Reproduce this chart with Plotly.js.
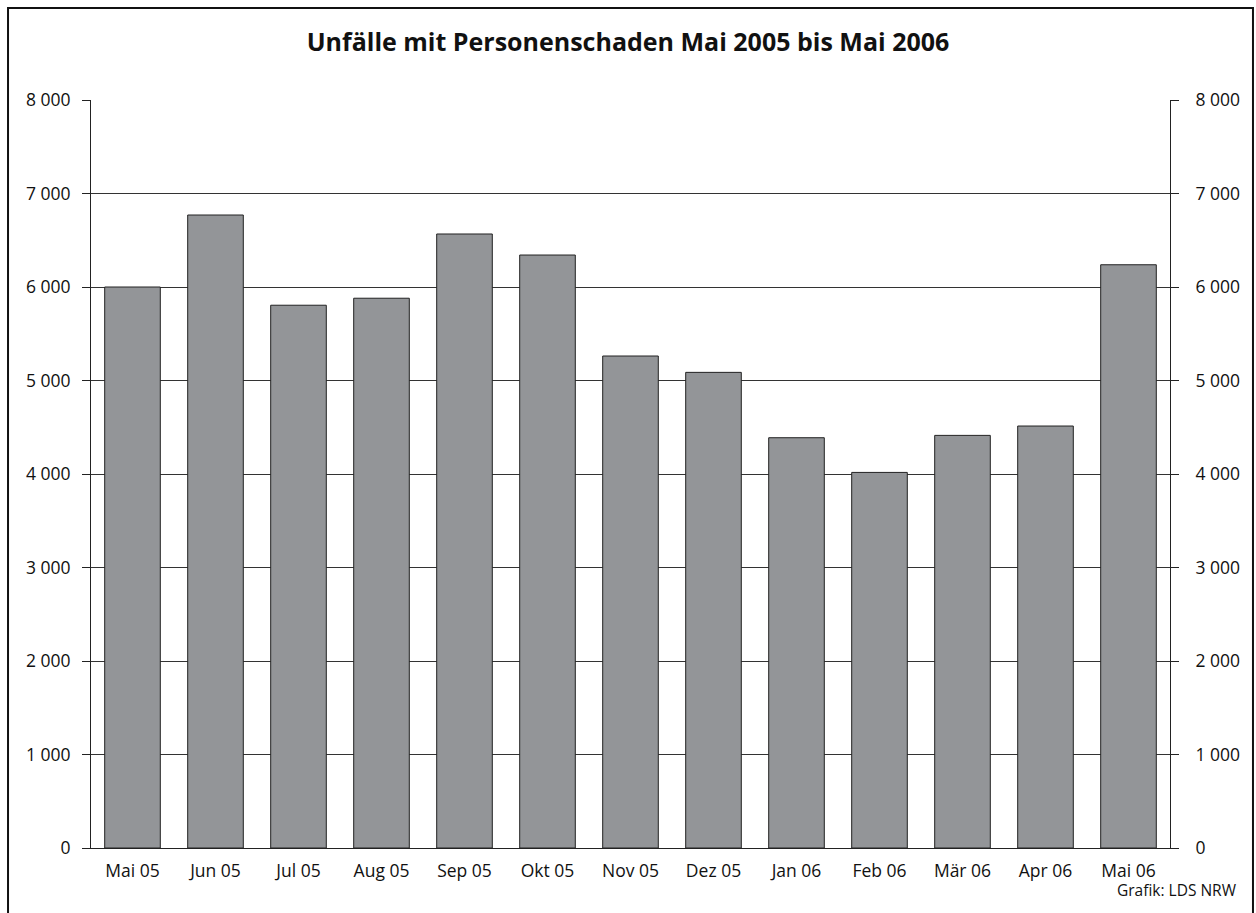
<!DOCTYPE html>
<html>
<head>
<meta charset="utf-8">
<script src="https://cdn.plot.ly/plotly-3.0.1.min.js"></script>
<style>
  html, body { margin: 0; padding: 0; background: #fff; }
  #chart { width: 1256px; height: 913px; }
</style>
</head>
<body>
<div id="chart"></div>
<script>
// Monatswerte Unfälle mit Personenschaden
let months = ['Mai 05','Jun 05','Jul 05','Aug 05','Sep 05','Okt 05','Nov 05',
              'Dez 05','Jan 06','Feb 06','Mär 06','Apr 06','Mai 06'];
let accidents = [6000, 6770, 5805, 5880, 6567, 6342, 5262,
                 5087, 4388, 4017, 4413, 4513, 6238];
let yTicks = [0, 1000, 2000, 3000, 4000, 5000, 6000, 7000, 8000];

let font = 'Open Sans, Noto Sans, sans-serif';

let trace1 = {
  x: months,
  y: accidents,
  type: 'bar',
  marker: {
    color: '#939598',
    line: { color: '#222', width: 1 }
  },
  hoverinfo: 'x+y'
};

// same bars on the right axis, invisible, so the right scale is drawn
let trace2 = {
  x: months,
  y: accidents,
  type: 'bar',
  yaxis: 'y2',
  opacity: 0,
  hoverinfo: 'skip'
};

let yBase = {
  range: [0, 8000],
  tickvals: yTicks,
  separatethousands: true,
  ticks: 'outside',
  ticklen: 8,
  tickcolor: '#222',
  tickwidth: 1,
  showline: true,
  linecolor: '#222',
  linewidth: 1,
  tickfont: { family: font, size: 17.5, color: '#111' },
  zeroline: false
};

let layout = {
  width: 1256,
  height: 913,
  margin: { l: 91, r: 86, t: 100, b: 65 },
  paper_bgcolor: '#fff',
  plot_bgcolor: '#fff',
  separators: ', ',
  showlegend: false,
  bargap: 0.33,
  barmode: 'overlay',
  title: {
    text: '<b>Unfälle mit Personenschaden Mai 2005 bis Mai 2006</b>',
    font: { family: font, size: 25, color: '#111' },
    x: 0.5,
    xanchor: 'center',
    y: 1 - 42 / 913,
    yanchor: 'middle'
  },
  xaxis: {
    showline: true,
    linecolor: '#222',
    linewidth: 1,
    ticks: '',
    tickfont: { family: font, size: 17.5, color: '#111' },
    ticklabelstandoff: 7
  },
  yaxis: Object.assign({}, yBase, {
    showgrid: true,
    gridcolor: '#333',
    gridwidth: 1,
    ticklabelstandoff: 8
  }),
  yaxis2: Object.assign({}, yBase, {
    overlaying: 'y',
    side: 'right',
    showgrid: false,
    ticklabelstandoff: 13
  }),
  shapes: [{
    type: 'rect',
    xref: 'paper', yref: 'paper',
    x0: -0.0769, x1: 1.0769,
    y0: -0.12, y1: 1.123,
    line: { color: '#111', width: 2 },
    fillcolor: 'rgba(0,0,0,0)',
    layer: 'below'
  }],
  annotations: [{
    text: 'Grafik: LDS NRW',
    xref: 'paper', yref: 'paper',
    x: 1.064, y: -0.056,
    xanchor: 'right', yanchor: 'middle',
    showarrow: false,
    font: { family: font, size: 15.5, color: '#111' }
  }]
};

Plotly.newPlot('chart', [trace1, trace2], layout, { displayModeBar: false });
</script>
</body>
</html>
